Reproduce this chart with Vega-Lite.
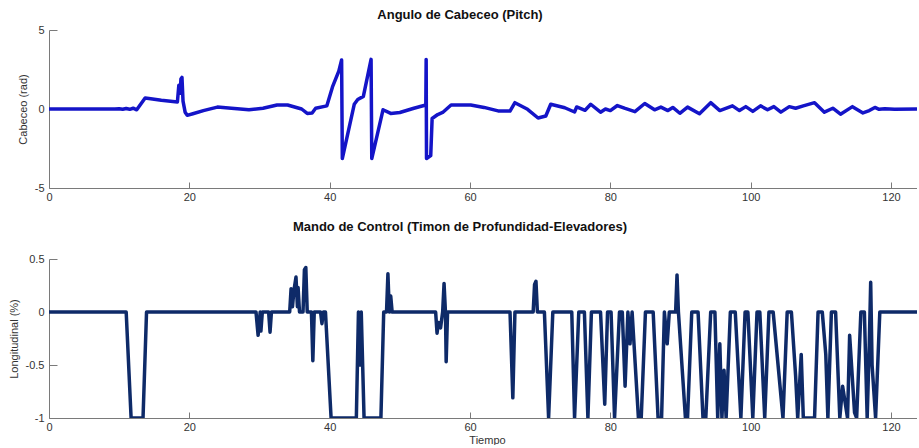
{
  "$schema": "https://vega.github.io/schema/vega-lite/v6.json",
  "autosize": {"type": "pad"},
  "padding": {"left": 8, "top": 9, "right": 0, "bottom": 0},
  "background": "white",
  "spacing": 71,
  "bounds": "flush",
  "config": {
    "view": {"stroke": null},
    "font": "Liberation Sans",
    "axis": {
      "domainColor": "#7a7a7a",
      "tickColor": "#7a7a7a",
      "domainWidth": 1,
      "tickWidth": 1,
      "grid": false,
      "labelFont": "Liberation Sans",
      "labelFontSize": 11,
      "labelColor": "#333333",
      "titleFont": "Liberation Sans",
      "titleFontSize": 11,
      "titleFontWeight": "normal",
      "titleColor": "#333333"
    },
    "title": {"font": "Liberation Sans", "fontSize": 13, "fontWeight": "bold", "color": "#111111"}
  },
  "datasets": {
    "pitch": [
      {"t": 0, "v": 0}, {"t": 9.4, "v": 0}, {"t": 10, "v": 0.02}, {"t": 10.5, "v": -0.02}, {"t": 11, "v": 0.03}, {"t": 11.5, "v": -0.02}, {"t": 12, "v": 0.05}, {"t": 12.5, "v": -0.05},
      {"t": 13.7, "v": 0.7}, {"t": 14.5, "v": 0.65}, {"t": 16, "v": 0.55}, {"t": 18.3, "v": 0.45}, {"t": 18.5, "v": 1.5}, {"t": 18.7, "v": 1.0}, {"t": 18.8, "v": 1.9}, {"t": 18.95, "v": 2.0},
      {"t": 19.1, "v": 0.5}, {"t": 19.4, "v": -0.2}, {"t": 19.7, "v": -0.4}, {"t": 20.5, "v": -0.3}, {"t": 22, "v": -0.1}, {"t": 24, "v": 0.12}, {"t": 26, "v": 0.05}, {"t": 28.5, "v": -0.05},
      {"t": 30.5, "v": 0.05}, {"t": 32.5, "v": 0.25}, {"t": 34, "v": 0.25}, {"t": 36, "v": 0.0}, {"t": 36.8, "v": -0.28}, {"t": 37.5, "v": -0.25}, {"t": 38, "v": 0.05}, {"t": 39.6, "v": 0.2},
      {"t": 40.4, "v": 1.4}, {"t": 41.3, "v": 2.4}, {"t": 41.7, "v": 3.1}, {"t": 41.8, "v": -3.14}, {"t": 43.5, "v": 0.3}, {"t": 44, "v": 0.6}, {"t": 44.8, "v": 0.8}, {"t": 45.9, "v": 3.14}, {"t": 46.0, "v": -3.14},
      {"t": 47.6, "v": -0.05}, {"t": 48.7, "v": -0.28}, {"t": 50, "v": -0.22}, {"t": 52, "v": 0.05}, {"t": 53.7, "v": 0.25}, {"t": 53.75, "v": 3.14}, {"t": 53.8, "v": -3.14}, {"t": 54.4, "v": -2.95},
      {"t": 54.6, "v": -0.6}, {"t": 55.4, "v": -0.35}, {"t": 56.1, "v": -0.22}, {"t": 57.3, "v": 0.25}, {"t": 60.1, "v": 0.25}, {"t": 62, "v": 0.1}, {"t": 64, "v": -0.12}, {"t": 65.7, "v": -0.13},
      {"t": 66.4, "v": 0.4}, {"t": 68.2, "v": -0.02}, {"t": 69.7, "v": -0.57}, {"t": 70.8, "v": -0.44}, {"t": 71.5, "v": 0.3}, {"t": 73.5, "v": 0.08}, {"t": 74.9, "v": -0.19}, {"t": 75.2, "v": 0.13},
      {"t": 76.4, "v": -0.08}, {"t": 77.2, "v": 0.3}, {"t": 78.6, "v": -0.2}, {"t": 79.3, "v": 0.0}, {"t": 80, "v": -0.1}, {"t": 81, "v": 0.22}, {"t": 82, "v": 0.05}, {"t": 83.5, "v": -0.17},
      {"t": 84.9, "v": 0.35}, {"t": 86.3, "v": -0.05}, {"t": 87.2, "v": 0.12}, {"t": 88.2, "v": -0.1}, {"t": 88.9, "v": 0.1}, {"t": 89.9, "v": -0.27}, {"t": 91, "v": 0.12}, {"t": 92.7, "v": -0.3},
      {"t": 94.3, "v": 0.4}, {"t": 95.6, "v": -0.1}, {"t": 97.4, "v": 0.2}, {"t": 98.4, "v": -0.1}, {"t": 99.3, "v": 0.15}, {"t": 100.3, "v": -0.15}, {"t": 101.4, "v": 0.2}, {"t": 102.4, "v": -0.05},
      {"t": 103.3, "v": 0.15}, {"t": 104.3, "v": -0.2}, {"t": 105.5, "v": 0.15}, {"t": 106.4, "v": 0.05}, {"t": 107.5, "v": 0.2}, {"t": 109.1, "v": 0.4}, {"t": 110.5, "v": -0.2}, {"t": 111.7, "v": 0.05},
      {"t": 112.8, "v": -0.33}, {"t": 114.5, "v": 0.15}, {"t": 116, "v": -0.25}, {"t": 116.9, "v": -0.1}, {"t": 117.7, "v": 0.1}, {"t": 118.3, "v": -0.02}, {"t": 119.1, "v": 0.02}, {"t": 120.5, "v": -0.02}, {"t": 123.7, "v": 0}
    ],
    "control": [
      {"t": 0, "v": 0}, {"t": 11, "v": 0}, {"t": 11.7, "v": -1}, {"t": 13.4, "v": -1}, {"t": 13.9, "v": 0},
      {"t": 29.5, "v": 0}, {"t": 29.8, "v": -0.22}, {"t": 30.1, "v": 0}, {"t": 30.2, "v": -0.18}, {"t": 30.4, "v": 0}, {"t": 31.3, "v": 0}, {"t": 31.5, "v": -0.19}, {"t": 31.7, "v": 0},
      {"t": 34.3, "v": 0}, {"t": 34.5, "v": 0.22}, {"t": 34.7, "v": 0.05}, {"t": 34.9, "v": 0.2}, {"t": 35.2, "v": 0.33}, {"t": 35.4, "v": 0.05}, {"t": 35.5, "v": 0.23}, {"t": 35.7, "v": 0}, {"t": 36.2, "v": 0}, {"t": 36.4, "v": 0.4}, {"t": 36.6, "v": 0.42}, {"t": 36.8, "v": 0},
      {"t": 37.4, "v": 0}, {"t": 37.6, "v": -0.46}, {"t": 37.8, "v": 0}, {"t": 38.7, "v": 0}, {"t": 38.9, "v": -0.11}, {"t": 39.1, "v": 0}, {"t": 39.4, "v": 0}, {"t": 40.2, "v": -1}, {"t": 43.8, "v": -1},
      {"t": 44.1, "v": 0}, {"t": 44.3, "v": -0.5}, {"t": 44.5, "v": 0}, {"t": 44.9, "v": -1}, {"t": 47.3, "v": -1}, {"t": 47.7, "v": 0}, {"t": 48.1, "v": 0}, {"t": 48.3, "v": 0.36}, {"t": 48.5, "v": 0}, {"t": 48.7, "v": 0.15}, {"t": 48.9, "v": 0},
      {"t": 55.1, "v": 0}, {"t": 55.3, "v": -0.2}, {"t": 55.5, "v": -0.1}, {"t": 55.8, "v": -0.15}, {"t": 56.1, "v": 0}, {"t": 56.3, "v": 0.27}, {"t": 56.5, "v": 0}, {"t": 56.6, "v": -0.47}, {"t": 56.8, "v": 0},
      {"t": 65.7, "v": 0}, {"t": 66.1, "v": -0.81}, {"t": 66.4, "v": 0}, {"t": 69.0, "v": 0}, {"t": 69.2, "v": 0.26}, {"t": 69.4, "v": 0.29}, {"t": 69.6, "v": 0},
      {"t": 70.6, "v": 0}, {"t": 71.2, "v": -1}, {"t": 71.8, "v": 0}, {"t": 74.5, "v": 0}, {"t": 74.9, "v": -1}, {"t": 75.5, "v": 0}, {"t": 76.3, "v": 0}, {"t": 76.8, "v": -1}, {"t": 77.3, "v": 0},
      {"t": 78.6, "v": 0}, {"t": 79.2, "v": -0.87}, {"t": 79.6, "v": 0}, {"t": 80.1, "v": 0}, {"t": 80.6, "v": -1}, {"t": 81.3, "v": 0},
      {"t": 81.7, "v": 0}, {"t": 82.1, "v": -0.7}, {"t": 82.5, "v": 0}, {"t": 82.8, "v": -0.3}, {"t": 83.1, "v": 0}, {"t": 84.0, "v": -1}, {"t": 84.4, "v": -1}, {"t": 85.0, "v": 0},
      {"t": 86.1, "v": 0}, {"t": 86.8, "v": -1}, {"t": 87.3, "v": -1}, {"t": 87.7, "v": 0}, {"t": 88.1, "v": -0.3}, {"t": 88.4, "v": 0}, {"t": 89.3, "v": 0}, {"t": 89.5, "v": 0.35}, {"t": 89.7, "v": 0},
      {"t": 90.7, "v": -1}, {"t": 91.0, "v": -1}, {"t": 91.6, "v": 0}, {"t": 92.5, "v": 0}, {"t": 93.2, "v": -1}, {"t": 93.6, "v": -1}, {"t": 94.3, "v": 0}, {"t": 94.9, "v": 0},
      {"t": 95.3, "v": -1}, {"t": 95.6, "v": -0.3}, {"t": 95.9, "v": -1}, {"t": 96.2, "v": -0.55}, {"t": 96.5, "v": -1}, {"t": 97.1, "v": 0}, {"t": 97.8, "v": 0}, {"t": 98.6, "v": -1}, {"t": 99.2, "v": 0},
      {"t": 99.6, "v": 0}, {"t": 100.3, "v": -1}, {"t": 100.9, "v": 0}, {"t": 101.3, "v": 0}, {"t": 102.0, "v": -1}, {"t": 102.6, "v": 0}, {"t": 103.2, "v": 0}, {"t": 104.6, "v": -1}, {"t": 105.2, "v": 0},
      {"t": 105.8, "v": 0}, {"t": 106.4, "v": -0.6}, {"t": 106.7, "v": -1}, {"t": 107.2, "v": -0.4}, {"t": 107.5, "v": -1}, {"t": 109.1, "v": -1}, {"t": 109.6, "v": 0}, {"t": 110.2, "v": 0},
      {"t": 110.7, "v": -0.4}, {"t": 111.0, "v": -1}, {"t": 111.5, "v": 0}, {"t": 112.1, "v": 0}, {"t": 112.7, "v": -1}, {"t": 113.1, "v": -0.7}, {"t": 113.8, "v": -1}, {"t": 114.1, "v": -0.22},
      {"t": 114.8, "v": -0.95}, {"t": 115.1, "v": -1}, {"t": 115.7, "v": 0}, {"t": 116.2, "v": 0}, {"t": 116.6, "v": -1}, {"t": 116.9, "v": -0.3}, {"t": 117.1, "v": 0.28}, {"t": 117.3, "v": -0.5},
      {"t": 117.8, "v": -1}, {"t": 118.4, "v": 0}, {"t": 123.7, "v": 0}
    ]
  },
  "vconcat": [
    {
      "width": 868,
      "height": 158,
      "title": {"text": "Angulo de Cabeceo (Pitch)", "offset": 2, "dx": -23},
      "data": {"name": "pitch"},
      "mark": {"type": "line", "color": "#1414c8", "strokeWidth": 3.5, "strokeJoin": "round", "clip": true},
      "encoding": {
        "x": {"field": "t", "type": "quantitative", "scale": {"domain": [0, 123.7], "nice": false},
          "axis": {"title": null, "values": [0, 20, 40, 60, 80, 100, 120], "tickSize": -6, "labelPadding": 9, "labelFlush": false, "labelExpr": "toString(datum.value)"}},
        "y": {"field": "v", "type": "quantitative", "scale": {"domain": [-5, 5], "nice": false},
          "axis": {"title": "Cabeceo (rad)", "values": [-5, 0, 5], "tickSize": -8, "labelPadding": 13, "titlePadding": 6, "labelExpr": "toString(datum.value)"}}
      }
    },
    {
      "width": 868,
      "height": 159,
      "title": {"text": "Mando de Control (Timon de Profundidad-Elevadores)", "offset": 19, "dx": -23},
      "data": {"name": "control"},
      "mark": {"type": "line", "color": "#0e2a68", "strokeWidth": 3.5, "strokeJoin": "round", "clip": true},
      "encoding": {
        "x": {"field": "t", "type": "quantitative", "scale": {"domain": [0, 123.7], "nice": false},
          "axis": {"title": "Tiempo", "values": [0, 20, 40, 60, 80, 100, 120], "tickSize": -6, "labelPadding": 9, "labelFlush": false, "titlePadding": 2, "titleX": 438, "labelExpr": "toString(datum.value)"}},
        "y": {"field": "v", "type": "quantitative", "scale": {"domain": [-1, 0.5], "nice": false},
          "axis": {"title": "Longitudinal (%)", "values": [-1, -0.5, 0, 0.5], "tickSize": -8, "labelPadding": 13, "titlePadding": 6, "labelExpr": "toString(datum.value)"}}
      }
    }
  ]
}
